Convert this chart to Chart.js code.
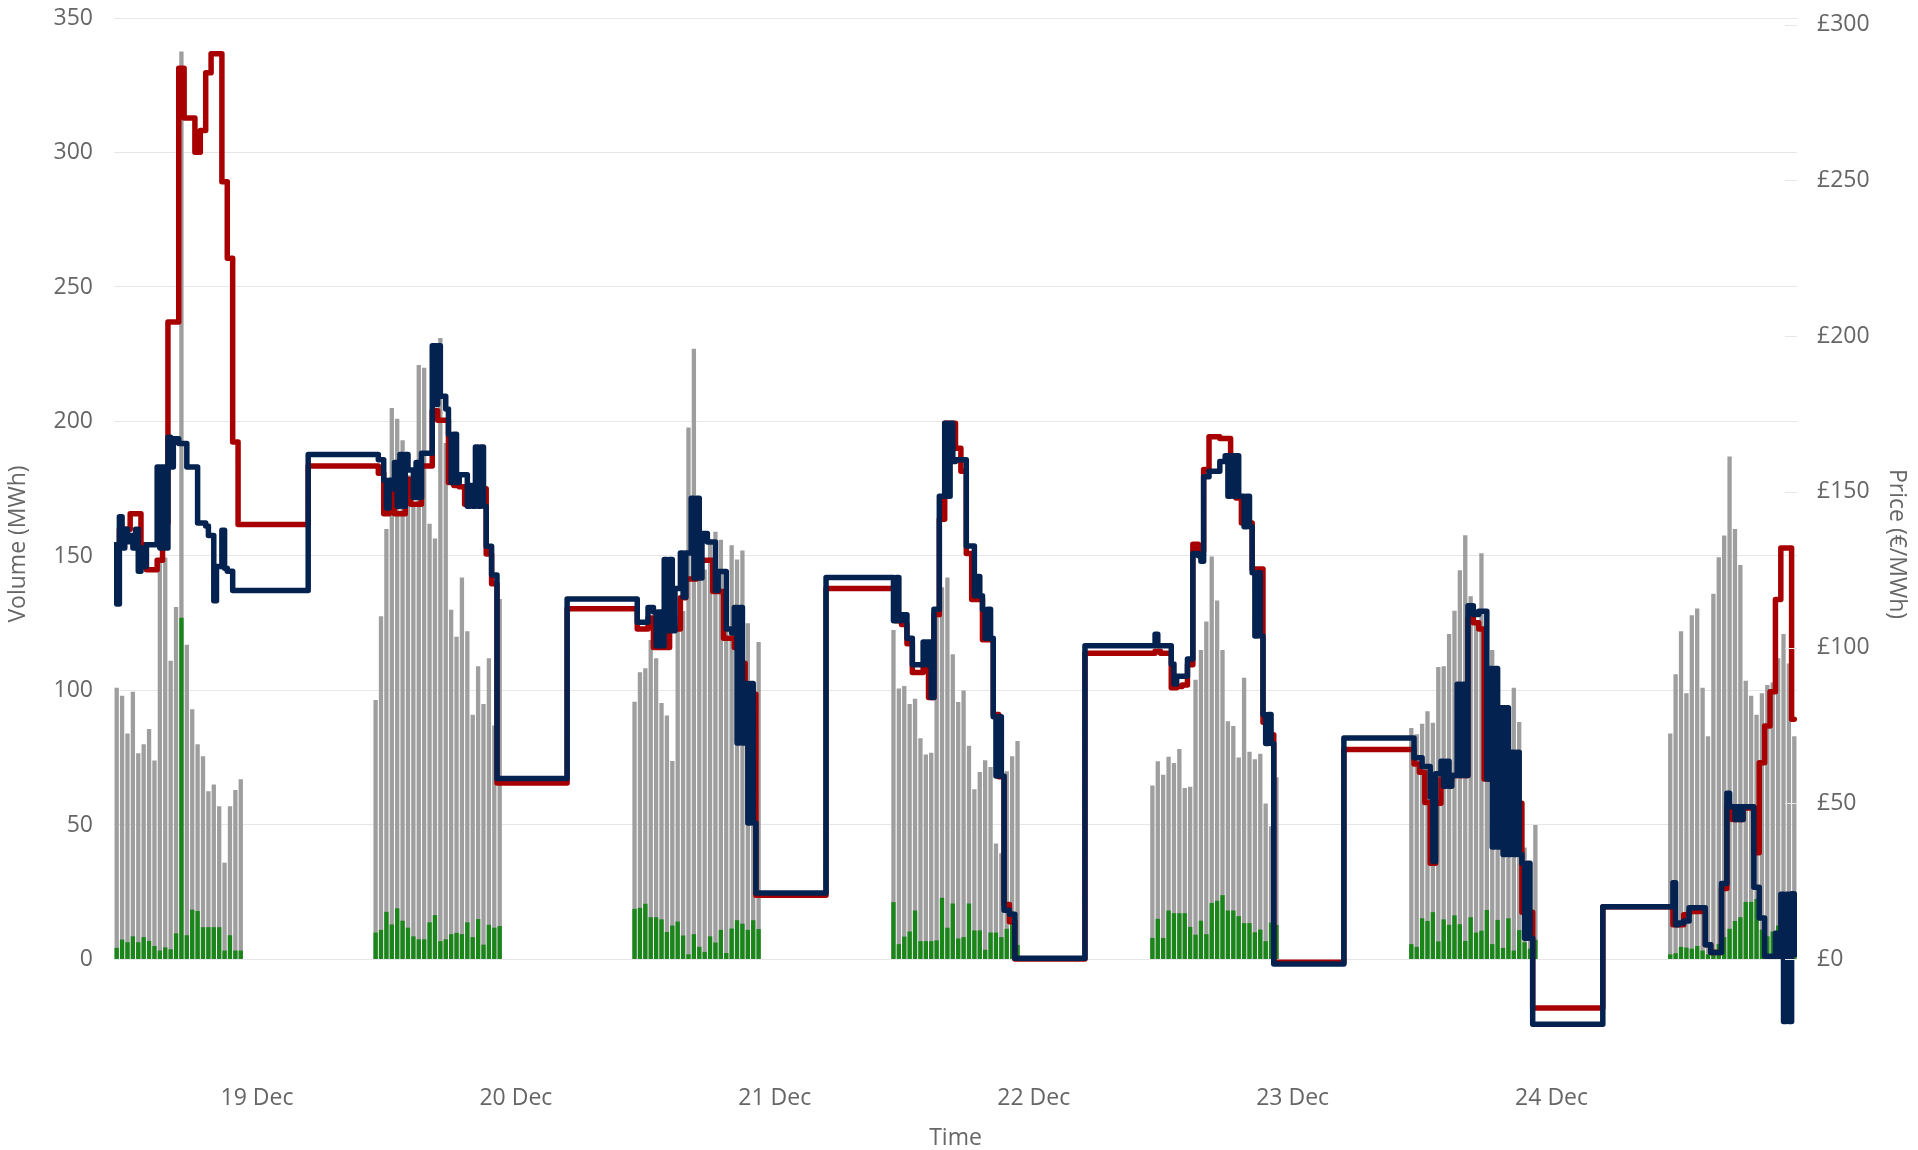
<!DOCTYPE html>
<html>
<head>
<meta charset="utf-8">
<script src="https://cdn.jsdelivr.net/npm/chart.js@4.4.1/dist/chart.umd.min.js"></script>
<style>
html,body{margin:0;padding:0;background:#ffffff;overflow:hidden;}
#wrap{position:relative;width:1918px;height:1150px;}
</style>
</head>
<body>
<div id="wrap"><canvas id="c" width="1918" height="1150"></canvas></div>
<script>
// ---- categories / tick labels ----
const dayLabels = ['18 Dec', '19 Dec', '20 Dec', '21 Dec', '22 Dec', '23 Dec', '24 Dec'];
const volumeTicks = [0, 50, 100, 150, 200, 250, 300, 350];
const priceTicks = [0, 50, 100, 150, 200, 250, 300];

// ---- total volume (grey bars), half-hourly 11:00-22:30 each day ----
const vol18 = [101, 98, 84, 99.5, 76.7, 80, 85.7, 74, 148.7, 149.4, 111, 131, 337.5, 117, 93, 80, 75.5, 62.5, 65, 57, 36, 57, 63, 67];
const vol19 = [96.5, 127.6, 160, 205, 201, 193, 180, 170, 221, 220, 162, 156.5, 231, 192, 130, 120, 142, 122, 91, 109, 95, 112, 87, 134];
const vol20 = [95.8, 106.8, 108.3, 118.8, 112, 95.3, 90.7, 73.8, 128, 129.5, 197.8, 227, 153, 145, 156, 159, 156, 140, 154, 148.7, 152, 125, 100, 118];
const vol21 = [122.5, 100.7, 101.7, 95, 96.9, 82.2, 76.2, 76.8, 127, 138.4, 142, 113.5, 95.7, 100, 79.4, 63.3, 69.7, 74.1, 71.5, 43.1, 39.5, 70, 75.5, 81.2];
const vol22 = [64.7, 73.7, 68.7, 75.4, 73, 78.2, 63.7, 64.2, 104, 115, 125.6, 149.8, 133.4, 115, 88.6, 86.8, 75.1, 104.7, 77.2, 74.4, 76.5, 58, 49.5, 67.7];
const vol23 = [86, 83.7, 87.6, 92.3, 88, 108.7, 109, 121, 129.6, 144.7, 157.7, 135, 125, 151, 128, 115, 104, 92, 84, 101, 88.3, 41.6, 36, 50];
const vol24 = [84, 106, 122, 99, 128, 130.5, 101, 83, 136, 149.5, 157.6, 187, 160, 146.6, 103.6, 98, 91, 99, 102, 103, 112, 121, 110, 83];

// ---- green volume bars ----
const grn18 = [4.3, 7.4, 6.4, 8.6, 6.4, 8.3, 6.9, 5, 3.3, 4.5, 3.8, 9.7, 127, 9, 18.5, 18, 12, 12, 12, 12, 3.3, 9, 3.3, 3.3];
const grn19 = [10, 11, 17.7, 13, 19, 14.4, 11.8, 8.6, 7.5, 7.5, 13.8, 16.5, 6.8, 7.5, 9.4, 9.9, 9.4, 13.8, 8.3, 15, 5.5, 12.9, 11.8, 12.4];
const grn20 = [18.8, 19.2, 20.7, 15.7, 15.7, 14.9, 10.2, 12.6, 14.1, 8.9, 1.9, 9.4, 4.7, 2.8, 8.6, 6.3, 11, 2.4, 11.5, 14.6, 13.3, 11, 14.6, 11.3];
const grn21 = [21.3, 5.7, 8.5, 10.4, 18.2, 6.8, 6.8, 6.8, 7.1, 22.9, 11.8, 20.8, 7.8, 8.3, 20.8, 10.8, 10.8, 3.6, 10, 10, 8.3, 11.4, 17.8, 5.4];
const grn22 = [8, 15.1, 8, 18.2, 17.2, 17.2, 17.2, 12.1, 9.2, 14.4, 9.4, 21, 21.8, 23.9, 18.2, 18.2, 16.1, 13.5, 13.5, 10.1, 11.1, 6.8, 13.7, 12.8];
const grn23 = [5.7, 4.7, 15.3, 14.3, 17.6, 6.7, 14.9, 12.9, 16.4, 13.1, 6.9, 15.7, 10, 10.7, 18.4, 5.7, 14.7, 4.3, 15.3, 3.3, 10.9, 6.4, 4, 7.3];
const grn24 = [1.9, 2.3, 4.7, 4.4, 4, 5, 3.3, 1.9, 3.7, 5.7, 8.3, 11.4, 14.3, 15.7, 21.4, 21.4, 22.5, 11.1, 8.6, 10.4, 12.6, 1.4, 5.4, 3.3];

// ---- red price, half-hourly ----
const red18 = [133, 138, 138, 143, 143, 133, 125, 125, 128, 140, 204.5, 204.5, 286, 270, 270, 259, 266, 284.5, 290.6, 290.6, 249.5, 225, 166, 139.5];
const red19 = [158.3, 156, 143, 151, 143, 143, 154, 146, 146, 158.3, 158.3, 176, 173, 173, 153, 152, 151.6, 146, 146, 151, 151, 130, 120.5, 56.5];
const red20 = [112.5, 106, 106, 109.5, 100, 100, 100, 106, 106, 116, 122, 122, 128, 128, 128, 118, 118, 103, 103, 100, 95, 88, 85, 20.5];
const red21 = [119, 108.6, 107.4, 101.2, 92, 92, 94, 84, 110.5, 141.2, 172, 172, 164, 156.6, 130.2, 115.4, 115.4, 102.5, 102.5, 78.5, 58.5, 17.5, 12, 0];
const red22 = [98.2, 98.8, 98.2, 98.2, 87.1, 87.5, 88, 94.5, 133.2, 131, 157.2, 167.7, 167.7, 167.1, 167.1, 150, 148, 140, 140, 125.2, 125.2, 76, 72, -1];
const red23 = [67.3, 62.6, 60, 50.3, 30.8, 50, 57.8, 57.8, 58.9, 58.9, 58.9, 109.4, 108, 106, 57.8, 60, 60, 55, 55, 50, 50, 15, 15, -15.7];
const red24 = [16.8, 11, 11, 14.2, 15.3, 15.3, 15.3, 4.6, 2.1, 2.1, 22.7, 49, 44.8, 44.8, 48.5, 48.5, 34.1, 63, 74.8, 85.8, 115.4, 132, 132, 77];

// ---- navy price, quarter-hourly ----
const navy18 = [133,114, 142,132, 138,134, 136,132, 138,124.5, 132,126, 133,133, 133,133, 158,132, 158,132, 167.5,158, 167,167, 165.5,165.5, 165.5,158, 158,158, 158,140, 140,140, 139,136, 136,115, 126,126, 137.7,125.5, 124.5,124.5, 118.3,118.3, 118.3,118.3];
const navy19 = [162,162, 160.3,160.3, 153.7,144.8, 153.7,151, 159.4,145.4, 162,145.4, 162,157, 157,148.2, 159.4,148.2, 162.4,162.4, 162.4,162.4, 196.9,178, 196.9,180.7, 180.7,176.6, 168.5,153, 168.5,153, 155.5,155.5, 155.5,145.4, 152,145.4, 164.4,145.4, 164.4,145.4, 132.5,132.5, 123.3,123.3, 58,58];
const navy20 = [115.6,115.6, 108.1,108.1, 108.1,108.1, 112.9,112.9, 111.4,100.6, 111.4,100.6, 128.3,105.4, 128.3,105.4, 119,119, 130.4,116.2, 130.4,130.4, 147.9,122.3, 147.9,122.3, 136.6,136.6, 133.9,133.9, 133.9,118.3, 124.4,124.4, 124.4,106, 106,104.7, 112.9,69.4, 112.9,69.4, 88.5,43.7, 88.5,43.7, 21.2,21.2];
const navy21 = [122.5,108.6, 122.5,108.6, 110.5,110.5, 103,103, 94.5,94.5, 94.5,94.5, 101.8,94.5, 101.8,84, 112.3,112.3, 148.6,148.6, 172,148.6, 172,159.7, 160.3,160.3, 160.3,160.3, 132.6,132.6, 132.6,116.6, 122.8,116.6, 112.3,103, 112.3,103, 77.8,58.8, 77.8,58.8, 15.7,15.7, 14.4,14.4, 0.3,0.3];
const navy22 = [100.6,100.6, 104.3,100.6, 100.6,100.6, 100.6,100.6, 94.7,88.3, 90.8,90.8, 90.8,90.8, 96.3,96.3, 130.2,130.2, 129.5,127.7, 154.8,154.8, 156.6,156.6, 156.6,156.6, 159.7,159.7, 161.6,148.6, 161.6,148.6, 161.6,148.6, 148.6,138.8, 148.6,138.8, 124,103.7, 124,103.7, 78.5,69.2, 78.5,69.2, -1.6,-1.6];
const navy23 = [71,71, 64.6,64.6, 64.6,61.8, 61.8,61.8, 52,31.3, 59.5,59.5, 63.5,55.5, 63.5,55.5, 58.9,58.9, 88.2,58.9, 88.2,58.9, 113.4,113.4, 110.6,110.6, 111.7,111.7, 111.7,57.8, 93.3,36, 93.3,36, 80.7,33.6, 80.7,33.6, 66.4,33.6, 66.4,33.6, 30.8,6.7, 30.8,6.7, -20.9,-20.9];
const navy24 = [16.8,16.8, 24.5,11, 11.6,11.6, 12.2,12.2, 16.5,16.5, 16.5,16.5, 16.5,16.5, 4.6,4.6, 2.1,2.1, 2.1,2.1, 24.3,24.3, 53.2,48.9, 48.9,44.8, 48.9,44.8, 48.9,48.9, 48.9,48.9, 23.1,23.1, 13.2,13.2, 0.9,0.9, 0.9,0.9, 8.3,0.9, 20.8,-20, 20.8,-20, 21,1.5];

// ---- assemble (x = hours since 18 Dec 00:00) ----
const volDays = [vol18, vol19, vol20, vol21, vol22, vol23, vol24];
const grnDays = [grn18, grn19, grn20, grn21, grn22, grn23, grn24];
const redDays = [red18, red19, red20, red21, red22, red23, red24];
const navyDays = [navy18, navy19, navy20, navy21, navy22, navy23, navy24];

function halfHourSeries(days) {
  const out = [];
  days.forEach((arr, d) => arr.forEach((v, k) => out.push({x: d * 24 + 11 + 0.5 * k, y: v})));
  return out;
}
function quarterSeries(days) {
  const out = [];
  days.forEach((arr, d) => arr.forEach((v, j) => out.push({x: d * 24 + 10.875 + 0.25 * j, y: v})));
  return out;
}

const FONT = "'Open Sans', 'Noto Sans', sans-serif";
const TXT = '#666666';
const PLOT_BOTTOM = 1070, PLOT_RIGHT = 1797, PLOT_LEFT = 114, PLOT_TOP = 18;

const rightTickMarks = {
  id: 'rightTickMarks',
  afterDraw(chart) {
    const s = chart.scales.yP, c = chart.ctx;
    c.save();
    c.strokeStyle = '#e6e6e6';
    c.lineWidth = 1;
    priceTicks.forEach(v => {
      const y = Math.round(s.getPixelForValue(v)) + 0.5;
      c.beginPath(); c.moveTo(chart.chartArea.right - 12, y); c.lineTo(chart.chartArea.right, y); c.stroke();
    });
    c.restore();
  }
};

function fitVertical(width) {
  return s => { s.width = width; s.paddingTop = 0; s.paddingBottom = 0; };
}

new Chart(document.getElementById('c').getContext('2d'), {
  data: {
    datasets: [
      {type: 'line', label: 'Navy price', data: quarterSeries(navyDays), yAxisID: 'yP', xAxisID: 'x',
       borderColor: '#04224f', borderWidth: 5.5, stepped: 'middle', pointRadius: 0, fill: false,
       borderJoinStyle: 'round', borderCapStyle: 'round', order: 1},
      {type: 'line', label: 'Red price', data: halfHourSeries(redDays), yAxisID: 'yP', xAxisID: 'x',
       borderColor: '#a80000', borderWidth: 5.5, stepped: 'middle', pointRadius: 0, fill: false,
       borderJoinStyle: 'round', borderCapStyle: 'round', order: 2},
      {type: 'bar', label: 'Green volume', data: halfHourSeries(grnDays), yAxisID: 'yV', xAxisID: 'x',
       backgroundColor: '#1a861a', grouped: false, barPercentage: 1, categoryPercentage: 0.8, order: 3},
      {type: 'bar', label: 'Volume', data: halfHourSeries(volDays), yAxisID: 'yV', xAxisID: 'x',
       backgroundColor: '#9e9e9e', grouped: false, barPercentage: 1, categoryPercentage: 0.8, order: 4}
    ]
  },
  options: {
    responsive: false,
    animation: false,
    events: [],
    layout: {padding: {left: 0, right: 0, top: PLOT_TOP, bottom: 0}},
    plugins: {legend: {display: false}, tooltip: {enabled: false}},
    scales: {
      x: {
        type: 'linear', min: 10.75, max: 166.75, offset: false,
        grid: {display: false, drawTicks: false}, border: {display: false},
        afterBuildTicks: s => { s.ticks = [24, 48, 72, 96, 120, 144].map(v => ({value: v})); },
        ticks: {callback: v => dayLabels[Math.round(v / 24)], font: {family: FONT, size: 23}, color: TXT,
                padding: 15, maxRotation: 0, autoSkip: false},
        title: {display: true, text: 'Time', font: {family: FONT, size: 23, lineHeight: 1.0}, color: TXT, padding: 0},
        afterFit: s => { s.height = 1150 - PLOT_BOTTOM; s.paddingLeft = 0; s.paddingRight = 0; }
      },
      yV: {
        position: 'left', min: -41.1, max: 350,
        afterBuildTicks: s => { s.ticks = volumeTicks.map(v => ({value: v})); },
        grid: {color: '#e6e6e6', lineWidth: 1, drawTicks: false}, border: {display: false},
        ticks: {font: {family: FONT, size: 23}, color: TXT, padding: 21},
        title: {display: true, text: 'Volume (MWh)', font: {family: FONT, size: 23}, color: TXT, padding: {top: 5, bottom: 0}},
        afterFit: fitVertical(PLOT_LEFT)
      },
      yP: {
        position: 'right', min: -35.6, max: 302.1,
        afterBuildTicks: s => { s.ticks = priceTicks.map(v => ({value: v})); },
        grid: {drawOnChartArea: false, drawTicks: false}, border: {display: false},
        ticks: {font: {family: FONT, size: 23}, color: TXT, padding: 20, callback: v => '£' + v},
        title: {display: true, text: 'Price (€/MWh)', font: {family: FONT, size: 23}, color: TXT, padding: {top: 8, bottom: 0}},
        afterFit: fitVertical(1918 - PLOT_RIGHT)
      }
    }
  },
  plugins: [rightTickMarks]
});
</script>
</body>
</html>
